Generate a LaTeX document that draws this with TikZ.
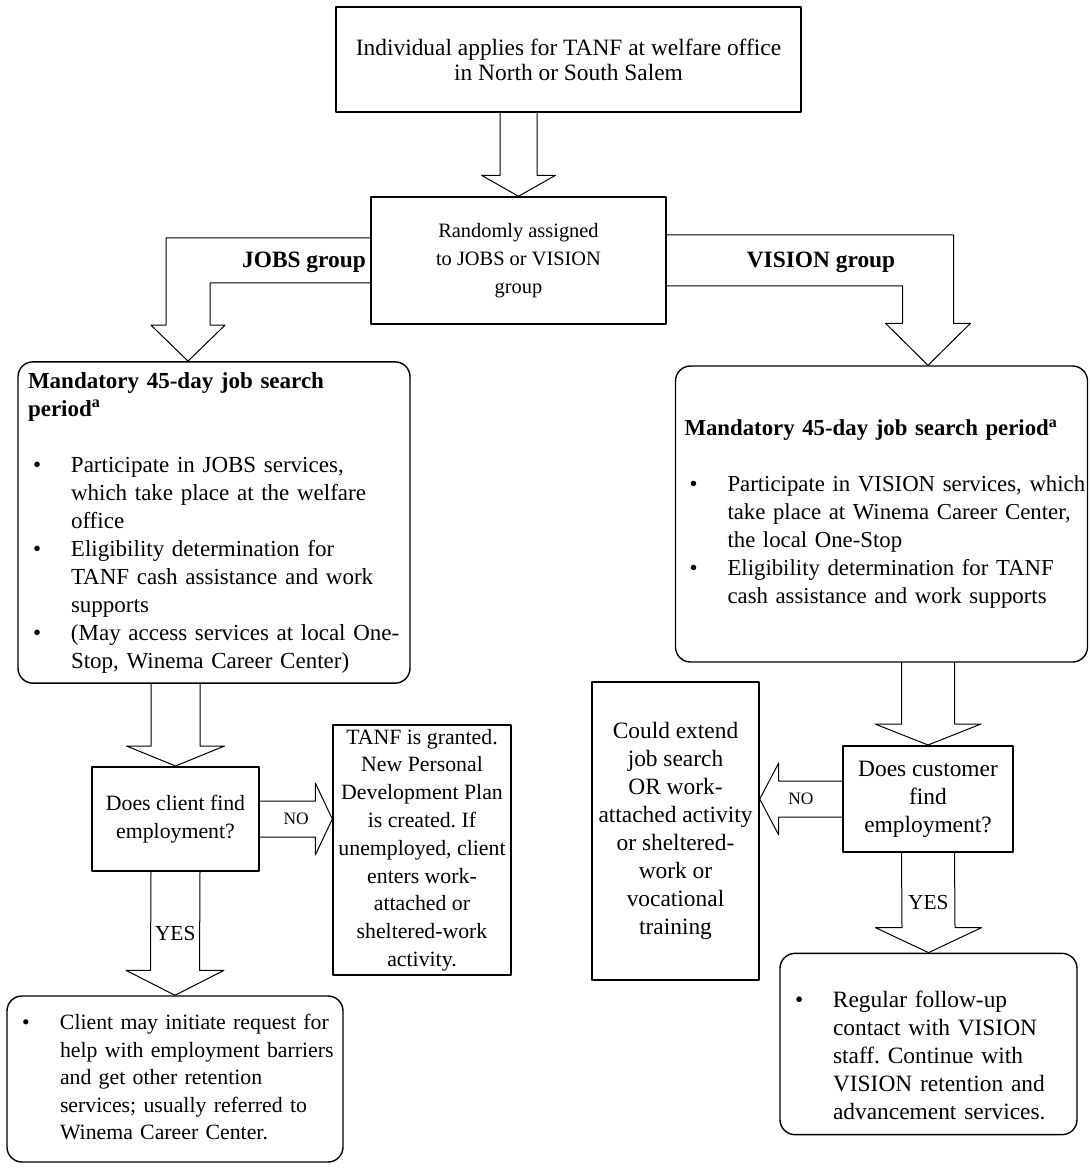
\documentclass[tikz,border=0pt]{standalone}
\usepackage{fontspec}
\setmainfont{Liberation Serif}
\usetikzlibrary{calc}
\frenchspacing

\newcommand{\bul}{\makebox[21.5pt][l]{\hspace*{2.5pt}\textbullet}}
\newcommand{\blockdown}[4]{%
\draw[blockarrow] ($(#1)+(-#3,0)$) -- ($(#2)+(-#3,-#4)$) -- ($(#2)+(-2*#3,-#4)$) -- (#2) -- ($(#2)+(2*#3,-#4)$) -- ($(#2)+(#3,-#4)$) -- ($(#1)+(#3,0)$);}
\newcommand{\blockside}[4]{%
\draw[blockarrow] ($(#1)+(0,-#3)$) -- ($(#2)+(#4,-#3)$) -- ($(#2)+(#4,-2*#3)$) -- (#2) -- ($(#2)+(#4,2*#3)$) -- ($(#2)+(#4,#3)$) -- ($(#1)+(0,#3)$);}

\begin{document}
\begin{tikzpicture}[line cap=round,line join=round,x=0.5pt,y=-0.5pt,
  every node/.style={font=\fontsize{11.7}{14}\selectfont},
  small/.style={font=\fontsize{10.9}{13.9}\selectfont},
  box/.style={draw,line width=0.7pt,inner xsep=2pt,inner ysep=2pt,align=center},
  roundbox/.style={draw,line width=0.7pt,rounded corners=7.5pt,inner xsep=5pt,align=left},
  askbox/.style={draw,line width=1pt,inner xsep=2pt,align=center},
  blockarrow/.style={line width=0.5pt},
  grouplbl/.style={font=\fontsize{11.7}{14}\selectfont\bfseries},
  answer/.style={font=\fontsize{8.7}{10}\selectfont},
  yeslbl/.style={font=\fontsize{10.7}{13}\selectfont}]
\path[use as bounding box,fill=white] (0,0) rectangle (1089,1170);

\node[box,minimum width=232.5pt,minimum height=52.5pt,font=\fontsize{11.7}{12.6}\selectfont] (apply) at (568.5,59.5) {Individual applies for TANF at welfare office\\in North or South Salem};
\node[box,minimum width=147.5pt,minimum height=63.5pt,font=\fontsize{10.2}{14}\selectfont] (rand) at (518.5,260.5) {Randomly assigned\\to JOBS or VISION\\group};

\node[roundbox,minimum width=196pt,minimum height=160.5pt,text width=186pt,font=\fontsize{11.5}{14}\selectfont] (jobs) at (214,522.5) {\begin{tabular}{@{}l@{}l@{}}
\multicolumn{2}{@{}l@{}}{\textbf{Mandatory 45-day job search}}\\
\multicolumn{2}{@{}l@{}}{\textbf{period\textsuperscript{a}}}\\
&\\
\bul & Participate in JOBS services,\\
& which take place at the welfare\\
& office\\
\bul & Eligibility determination for\\
& TANF cash assistance and work\\
& supports\\
\bul & (May access services at local One-\\
& Stop, Winema Career Center)
\end{tabular}};
\node[roundbox,minimum width=206pt,minimum height=148pt,inner xsep=4.5pt,text width=197pt,font=\fontsize{11.4}{14}\selectfont] (vision) at (881.5,514) {\begin{tabular}{@{}l@{}l@{}}
\multicolumn{2}{@{}l@{}}{\textbf{Mandatory 45-day job search period\textsuperscript{a}}}\\
&\\
\bul & Participate in VISION services, which\\
& take place at Winema Career Center,\\
& the local One-Stop\\
\bul & Eligibility determination for TANF\\
& cash assistance and work supports
\end{tabular}};

\node[askbox,small,minimum width=83.5pt,minimum height=52pt] (dec) at (175.5,819) {Does client find\\employment?};
\node[box,small,minimum width=89pt,minimum height=125pt,inner xsep=1pt] (tanf) at (422,850) {TANF is granted.\\New Personal\\Development Plan\\is created. If\\unemployed, client\\enters work-\\attached or\\sheltered-work\\activity.};
\node[roundbox,minimum width=168pt,minimum height=83pt,text width=158pt,font=\fontsize{10.9}{13.75}\selectfont] (res) at (175,1079) {\begin{tabular}{@{}l@{}l@{}}
\bul & Client may initiate request for\\
& help with employment barriers\\
& and get other retention\\
& services; usually referred to\\
& Winema Career Center.
\end{tabular}};

\node[box,minimum width=83.5pt,minimum height=149pt] (could) at (675.5,831) {Could extend\\job search\\OR work-\\attached activity\\or sheltered-\\work or\\vocational\\training};
\node[askbox,minimum width=85pt,minimum height=53pt] (rdec) at (928,799) {Does customer\\find\\employment?};
\node[roundbox,minimum width=148.5pt,minimum height=84pt,text width=138.5pt] (rres) at (928.5,1044) {\begin{tabular}{@{}l@{}l@{}}
&\\
\bul & Regular follow-up\\
& contact with VISION\\
& staff. Continue with\\
& VISION retention and\\
& advancement services.
\end{tabular}};

\coordinate (a1) at (rand.north |- apply.south);
\coordinate (a2) at (dec.north |- jobs.south);
\coordinate (a3) at (rdec.north |- vision.south);
\coordinate (ntip) at (tanf.west |- dec.east);
\coordinate (ctip) at (could.east |- rdec.west);
\coordinate (jtip) at ($(jobs.north)+(-26,0)$);
\coordinate (vtip) at (rdec.north |- vision.north);

\blockdown{a1}{rand.north}{18.5}{21}
\blockdown{a2}{dec.north}{24.5}{20}
\blockdown{dec.south}{res.north}{24.5}{25}
\blockdown{a3}{rdec.north}{26.5}{21}
\blockdown{rdec.south}{rres.north}{26.5}{25}
\blockside{dec.east}{ntip}{18}{-17}
\blockside{rdec.west}{ctip}{18}{19}

\draw[blockarrow] ($(rand.west)+(0,-22.5)$) -| ($(jtip)+(-22,-36)$) -- ($(jtip)+(-37,-36)$) -- (jtip) -- ($(jtip)+(37,-36)$) -- ($(jtip)+(22,-36)$) |- ($(rand.west)+(0,22.5)$);
\draw[blockarrow] ($(rand.east)+(0,-25.5)$) -| ($(vtip)+(25.5,-42)$) -- ($(vtip)+(42.5,-42)$) -- (vtip) -- ($(vtip)+(-42.5,-42)$) -- ($(vtip)+(-25.5,-42)$) |- ($(rand.east)+(0,25.5)$);

\node[grouplbl] (jobslbl) at (304,262) {JOBS group};
\node[grouplbl] (visionlbl) at (821,262) {VISION group};
\node[answer] (nol) at ($(dec.east)!0.5!(ntip)$) {NO};
\node[answer] (nor) at ($(rdec.west)!0.5!(ctip)$) {NO};
\node[yeslbl] (yesl) at ($(dec.south)!0.5!(res.north)$) {YES};
\node[yeslbl] (yesr) at ($(rdec.south)!0.5!(rres.north)$) {YES};
\end{tikzpicture}
\end{document}
